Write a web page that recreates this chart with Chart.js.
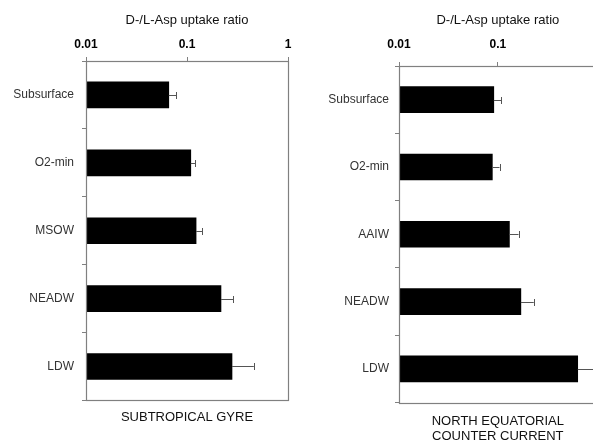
<!DOCTYPE html>
<html>
<head>
<meta charset="utf-8">
<script src="https://cdn.jsdelivr.net/npm/chart.js@4"></script>
<style>
  html, body { margin: 0; padding: 0; background: #fff; width: 593px; height: 444px; overflow: hidden; position: relative; }
  canvas { position: absolute; top: 0; }
  #leftChart { left: 0; }
  #rightChart { left: 290px; }
</style>
</head>
<body>
<canvas id="leftChart" width="300" height="444"></canvas>
<canvas id="rightChart" width="320" height="444"></canvas>
<script>
// data
const gyreLabels = ['Subsurface', 'O2-min', 'MSOW', 'NEADW', 'LDW'];
const gyreRatio  = [0.066, 0.109, 0.123, 0.217, 0.279];
const gyreErr    = [0.012, 0.011, 0.019, 0.069, 0.18];

const neccLabels = ['Subsurface', 'O2-min', 'AAIW', 'NEADW', 'LDW'];
const neccRatio  = [0.091, 0.088, 0.131, 0.171, 0.643];
const neccErr    = [0.017, 0.016, 0.031, 0.06, 0.36];

const xTicks = [0.01, 0.1, 1];
const xTitle = 'D-/L-Asp uptake ratio';

const fontFam = '"Liberation Sans", Arial, sans-serif';
const frameColor = '#808080';

// error bars + box frame
const extrasPlugin = {
    id: 'extras',
    afterDatasetsDraw(chart, args, opts) {
        const ctx = chart.ctx;
        const xs = chart.scales.x;
        const meta = chart.getDatasetMeta(0);
        ctx.save();
        ctx.strokeStyle = '#555';
        ctx.lineWidth = 1;
        opts.values.forEach((v, i) => {
            const bar = meta.data[i];
            const x0 = xs.getPixelForValue(v);
            const x1 = xs.getPixelForValue(v + opts.errors[i]);
            const y = Math.round(bar.y) + 0.5;
            ctx.beginPath();
            ctx.moveTo(x0, y);
            ctx.lineTo(x1, y);
            ctx.moveTo(Math.round(x1) + 0.5, y - 3.5);
            ctx.lineTo(Math.round(x1) + 0.5, y + 3.5);
            ctx.stroke();
        });
        const a = chart.chartArea;
        ctx.strokeStyle = frameColor;
        ctx.lineWidth = 1.2;
        ctx.strokeRect(Math.round(a.left) + 0.5, Math.round(a.top) + 0.5,
                       Math.round(a.right - a.left), Math.round(a.bottom - a.top));
        ctx.restore();
    }
};

function makePanel(id, labels, values, errors, cfg) {
    return new Chart(document.getElementById(id).getContext('2d'), {
        type: 'bar',
        data: {
            labels: labels,
            datasets: [{
                data: values,
                backgroundColor: '#000',
                borderWidth: 0,
                barThickness: 26
            }]
        },
        plugins: [extrasPlugin],
        options: {
            responsive: false,
            animation: false,
            indexAxis: 'y',
            layout: { padding: { left: 0, right: cfg.padRight, top: 0, bottom: 0 } },
            plugins: {
                legend: { display: false },
                tooltip: { enabled: false },
                extras: { values: values, errors: errors },
                title: {
                    display: true,
                    position: 'bottom',
                    fullSize: false,
                    text: cfg.bottomTitle,
                    color: '#111',
                    font: { family: fontFam, size: 13, weight: 'normal', lineHeight: 1.16 },
                    padding: cfg.titlePad
                }
            },
            scales: {
                x: {
                    type: 'logarithmic',
                    position: 'top',
                    min: 0.01,
                    max: 1,
                    afterBuildTicks: s => { s.ticks = xTicks.map(v => ({ value: v })); },
                    afterFit: s => { s.height = cfg.axisH; },
                    border: { display: false },
                    grid: { drawOnChartArea: false, drawTicks: true, tickLength: 4, tickColor: frameColor },
                    ticks: {
                        color: '#000',
                        padding: cfg.tickPad,
                        autoSkip: false,
                        maxRotation: 0,
                        font: { family: fontFam, size: 12, weight: 'bold' },
                        callback: v => String(v)
                    },
                    title: {
                        display: true,
                        text: xTitle,
                        color: '#111',
                        font: { family: fontFam, size: 13 },
                        padding: { top: cfg.xTitlePad, bottom: 0 }
                    }
                },
                y: {
                    afterFit: s => { s.width = cfg.axisW; },
                    border: { display: false },
                    grid: { drawOnChartArea: false, drawTicks: true, tickLength: 4, tickColor: frameColor, offset: true },
                    ticks: {
                        color: '#333',
                        padding: cfg.yPad,
                        font: { family: fontFam, size: 12 }
                    }
                }
            }
        }
    });
}

makePanel('leftChart', gyreLabels, gyreRatio, gyreErr, {
    bottomTitle: 'SUBTROPICAL GYRE',
    padRight: 12, axisW: 86, axisH: 61, tickPad: 5, xTitlePad: 13, yPad: 8,
    titlePad: { top: 9.5, bottom: 19 }
});

makePanel('rightChart', neccLabels, neccRatio, neccErr, {
    bottomTitle: ['NORTH EQUATORIAL', 'COUNTER CURRENT'],
    padRight: 13, axisW: 109, axisH: 66, tickPad: 10, xTitlePad: 13, yPad: 6,
    titlePad: { top: 11.3, bottom: 0 }
});
</script>
</body>
</html>
